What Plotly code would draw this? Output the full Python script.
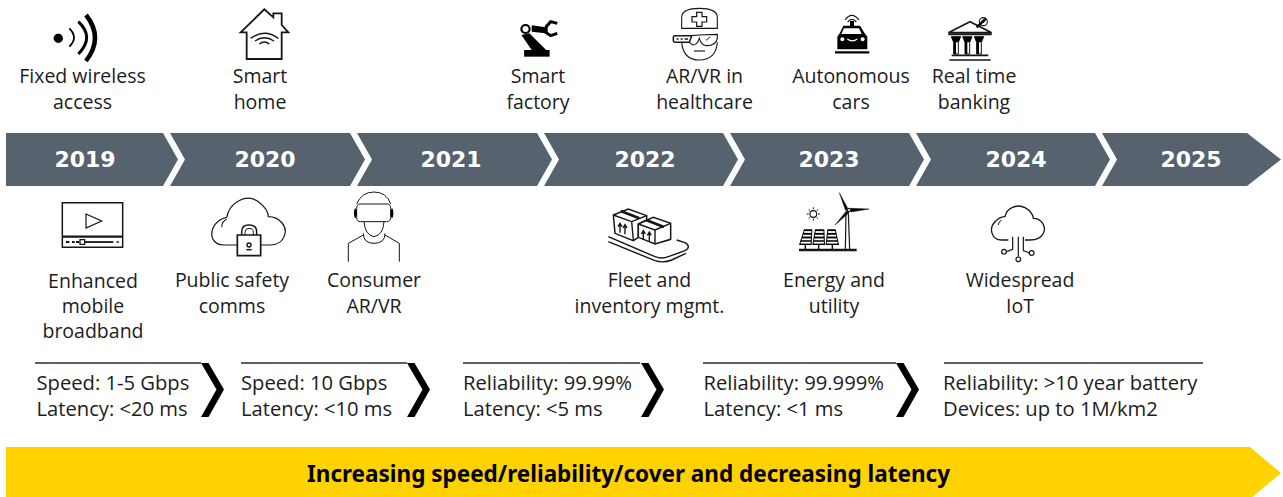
import re
import plotly.graph_objects as go

# ---------- content ----------
YEARS = ["2019", "2020", "2021", "2022", "2023", "2024", "2025"]
TOP_LABELS = ["Fixed wireless<br>access", "Smart<br>home", "Smart<br>factory",
              "AR/VR in<br>healthcare", "Autonomous<br>cars", "Real time<br>banking"]
BOTTOM_LABELS_3 = ["Enhanced<br>mobile<br>broadband"]
BOTTOM_LABELS_2 = ["Public safety<br>comms", "Consumer<br>AR/VR", "Fleet and<br>inventory mgmt.",
                   "Energy and<br>utility", "Widespread<br>IoT"]
SPEC_LABELS = ["Speed: 1-5 Gbps<br>Latency: <20 ms", "Speed: 10 Gbps<br>Latency: <10 ms",
               "Reliability: 99.99%<br>Latency: <5 ms", "Reliability: 99.999%<br>Latency: <1 ms",
               "Reliability: >10 year battery<br>Devices: up to 1M/km2"]
BANNER = ["Increasing speed/reliability/cover and decreasing latency"]

# ---------- layout positions (pixels of the page) ----------
W, H = 1283, 497
YEAR_X = [85, 265, 451, 645, 829, 1016, 1191]
TOP_X = [82.5, 260, 538, 704.5, 851, 974]
BOT3_X = [93]
BOT2_X = [232, 374, 649.5, 834, 1020]
SPEC_X = [36.5, 241, 463, 703.5, 943]
SEG_LEFT = [6, 170, 357, 544, 730, 916, 1102]
SEG_RIGHT = [163, 350, 537, 723, 909, 1095, 1247]
RULES = [(35, 201), (241, 407), (463, 640), (703, 896), (944, 1203)]
CHEVRONS = [201, 407, 641, 896]

DARK = "#15151c"
TXT = "#1c1c22"
BAND = "#56626e"
YELLOW = "#ffd200"
FONT = "Open Sans"

shapes = []


def add(path, fill=None, lw=1.5, color=DARK, layer="above"):
    s = dict(type="path", path=path, xref="x", yref="y", layer=layer,
             line=dict(color=color, width=lw))
    if lw == 0:
        s["line"] = dict(width=0)
    s["fillcolor"] = fill if fill else "rgba(0,0,0,0)"
    shapes.append(s)


def tf(path, ox, oy, sx=3.0, sy=3.0):
    """Map a path drawn in magnified crop units on to page pixels."""
    out, is_x = [], True
    for tok in re.findall(r"[A-Z]|-?\d+\.?\d*", path):
        if tok.isalpha():
            out.append(tok)
            is_x = True
        else:
            v = float(tok)
            out.append(f"{(ox + v / sx) if is_x else (oy + v / sy):.2f}")
            is_x = not is_x
    return " ".join(out)


def circ(cx, cy, rx, ry=None):
    ry = rx if ry is None else ry
    k = 0.5523
    return (f"M{cx-rx},{cy} C{cx-rx},{cy-k*ry} {cx-k*rx},{cy-ry} {cx},{cy-ry} "
            f"C{cx+k*rx},{cy-ry} {cx+rx},{cy-k*ry} {cx+rx},{cy} "
            f"C{cx+rx},{cy+k*ry} {cx+k*rx},{cy+ry} {cx},{cy+ry} "
            f"C{cx-k*rx},{cy+ry} {cx-rx},{cy+k*ry} {cx-rx},{cy} Z")


# timeline band
MID, TOP, BOT = 159.5, 133, 186
for i, (l, r) in enumerate(zip(SEG_LEFT, SEG_RIGHT)):
    if i == 0:
        p = f"M{l},{TOP} L{r},{TOP} L{r+15},{MID} L{r},{BOT} L{l},{BOT} Z"
    elif i == len(SEG_LEFT) - 1:
        p = f"M{l},{TOP} L{r},{TOP} L1281,{MID} L{r},{BOT} L{l},{BOT} L{l+15},{MID} Z"
    else:
        p = f"M{l},{TOP} L{r},{TOP} L{r+15},{MID} L{r},{BOT} L{l},{BOT} L{l+15},{MID} Z"
    add(p, fill=BAND, lw=0, layer="below")

# yellow banner
add("M6,447 L1250,447 L1281,473 L1250,499 L6,499 Z", fill=YELLOW, lw=0, layer="below")

# rules and chevrons of the spec row
for a, b in RULES:
    add(f"M{a},363 L{b},363", lw=1.3, color="#2a2a32")
for c in CHEVRONS:
    add(f"M{c},363 L{c+7.5},363 L{c+23},389.5 L{c+7.5},417 L{c},417 L{c+15.5},389.5 Z", fill="#000000", lw=0)


def crop(ox, oy, sx=3.0, sy=3.0):
    return lambda p, **k: add(tf(p, ox, oy, sx, sy), **k)


z1 = crop(0, 0)
z2 = crop(480, 0, 2.9, 3)
z3 = crop(0, 190)
z4 = crop(590, 185)
zcar = crop(830, 10)
zsol = crop(795, 190)
zbox = crop(600, 200)
zmed = crop(660, 5)

# --- wireless
z1(circ(175, 115, 14), fill="#000000", lw=0)
z1("M208,85 Q236,113 208,140", lw=1.8, color="#000000")
z1("M235,65 Q285,112 235,162", lw=3, color="#000000")
z1("M258,45 Q312,113 258,183", lw=4.5, color="#000000")
# --- home
z1("M722,97 L793,28 L820,52 L820,40 L845,40 L845,75 L865,97 L845,97 L845,177 L740,177 L740,97 Z", lw=1.8)
z1("M752,115 Q793,85 835,115", lw=1.4)
z1("M765,123 Q793,103 822,123", lw=1.4)
z1("M778,132 Q793,120 808,132", lw=1.4)
# --- robot
z2("M128,150 L202,150 L202,170 L128,170 Z", fill="#000000", lw=0)
z2("M120,105 L143,100 L192,150 L150,150 Z", fill="#000000", lw=0)
z2(circ(132, 87, 12), lw=2.2, color="#000000")
z2("M150,76 L190,82 L190,100 L150,95 Z", fill="#000000", lw=0)
z2("M224,70 L205,65 L192,80 L192,98 L205,107 L224,100", lw=3, color="#000000")
# --- healthcare
zmed("M65,70 L65,38 Q65,10 118,10 Q172,10 172,38 L172,70 Z", lw=1.1)
zmed("M110,22 L126,22 L126,35 L140,35 L140,51 L126,51 L126,64 L110,64 L110,51 L96,51 L96,35 L110,35 Z", lw=1.2)
zmed("M40,96 Q40,92 46,92 L95,92 L88,112 L46,112 Q40,112 40,106 Z", lw=1.5)
zmed("M50,102 L56,102 M62,102 L68,102 M74,102 L84,102", lw=1.6)
zmed("M95,92 L118,90 L172,88 L172,100 Q168,122 140,122 Q124,122 118,100 Q112,120 98,120 L88,112", lw=1.1)
zmed("M138,106 L150,96", lw=1)
zmed("M65,112 Q70,165 118,165 Q168,165 172,112", lw=1.1)
zmed("M102,138 L135,138", lw=1.1)
# --- car
zcar("M45,30 Q65,2 87,30", lw=1.2)
zcar("M53,36 Q66,20 79,36", lw=1.2)
zcar("M60,33 L72,33 L72,48 L60,48 Z", fill="#000000", lw=0)
zcar("M40,47 L90,47 L103,68 L112,80 L112,118 L22,118 L22,80 L30,68 Z", fill="#000000", lw=0)
zcar("M42,55 L87,55 L95,72 L34,72 Z", fill="#ffffff", lw=0)
zcar(circ(37, 88, 6), fill="#ffffff", lw=0)
zcar(circ(98, 88, 6), fill="#ffffff", lw=0)
zcar("M52,87 Q67,98 82,87", lw=1.3, color="#ffffff")
zcar("M15,127 L118,127", lw=2.4, color="#000000")
# --- bank
zcar("M355,68 L420,35 L485,68 Z", lw=1.6)
zcar("M355,73 L485,73", lw=2)
for cx in (378, 412, 447):
    zcar(f"M{cx-14},80 L{cx+14},80 L{cx+7},97 L{cx+7},132 L{cx-7},132 L{cx-7},97 Z", lw=1)
    zcar(f"M{cx-14},80 L{cx+14},80 L{cx+7},97 L{cx},97 L{cx},132 L{cx-7},132 L{cx-7},97 Z", fill="#000000", lw=0)
zcar("M365,136 L475,136", lw=1.6)
zcar("M358,150 L482,150", lw=1.6)
zcar(circ(460, 35, 12), fill="#ffffff", lw=1.1)
zcar("M440,52 L468,26", lw=2.4, color="#000000")
zcar(circ(460, 33, 4), lw=1)
# --- video
z3("M187,38 L368,38 L368,172 L187,172 Z", lw=1.5)
z3("M187,140 L368,140", lw=2.2)
z3("M258,72 L305,93 L258,114 Z", lw=1.2)
z3("M198,156 L208,156 M216,156 L224,156 M228,156 L238,156", lw=1.8)
z3("M254,156 L340,156", lw=1.8)
z3("M350,156 L356,156", lw=1.8)
z3("M240,149 L254,149 L254,163 L240,163 Z", fill="#ffffff", lw=1.3)
# --- cloud and lock
z3("M712,165 L672,165 C640,165 628,140 640,112 C648,95 665,85 680,82 C690,35 740,10 775,35 "
   "C795,50 805,65 805,80 C840,80 860,110 855,130 C850,155 830,165 810,165 L782,165", lw=1.2)
z3("M665,112 Q665,95 680,88", lw=1.1)
z3("M712,135 L782,135 L782,197 L712,197 Z", lw=1.7)
z3("M725,135 L725,125 Q725,105 747,105 Q770,105 770,125 L770,135", lw=1.5)
z3("M735,135 L735,127 Q735,115 747,115 Q760,115 760,127 L760,135", lw=1)
z3(circ(747, 165, 6), lw=1.4)
z3("M739,179 L755,179", lw=1.5)
# --- VR person
z3("M1070,42 Q1085,6 1122,6 Q1160,6 1172,42", lw=1)
z3("M1080,42 L1162,42 Q1172,42 1172,55 L1172,82 Q1172,95 1160,95 L1082,95 Q1070,95 1070,82 L1070,55 Q1070,42 1080,42 Z",
   fill="#ffffff", lw=1)
z3(circ(1066, 70, 4, 15), fill="#000000", lw=0)
z3(circ(1176, 70, 4, 15), fill="#000000", lw=0)
z3("M1092,95 Q1095,135 1122,140 Q1150,135 1152,95", lw=1)
z3("M1090,130 Q1090,160 1122,160 Q1155,160 1155,130", lw=1)
z3("M1045,215 L1045,160 L1090,135", lw=1)
z3("M1198,215 L1198,160 L1155,135", lw=1)
# --- boxes on conveyor
zbox("M25,110 L165,170 Q185,178 205,170 L255,152 Q275,140 255,128 L230,120", lw=1.4)
zbox("M25,125 L165,182 Q190,190 215,180 L258,160", lw=1.4)
zbox("M40,45 L85,27 L140,47 L140,60 L115,72 L115,112 L100,122 L45,100 Z", fill="#ffffff", lw=1.5)
zbox("M40,45 L95,65 L100,120 M95,65 L140,47", lw=1.4)
zbox("M115,72 L160,52 L212,70 L212,118 L165,132 L115,112 Z", fill="#ffffff", lw=1.5)
zbox("M115,72 L165,90 L165,132 M165,90 L212,70", lw=1.4)
zbox("M62,33 L118,55", lw=2.6)
zbox("M138,60 L192,81", lw=2.6)
zbox("M60,98 L60,72 M54,80 L60,70 L66,80 M75,103 L75,76 M69,84 L75,74 L81,84", lw=1.4)
zbox("M130,118 L130,94 M124,102 L130,92 L136,102 M148,124 L148,98 M142,106 L148,96 L154,106", lw=1.4)
# --- wind and solar
zsol("M153,68 L151,180 L164,180 L160,68", lw=1.2)
zsol("M158,55 L133,8 L152,62 Z", fill="#000000", lw=0.5)
zsol("M168,55 L222,57 L168,66 Z", fill="#000000", lw=0.5)
zsol("M155,62 L120,105 L162,68 Z", fill="#000000", lw=0.5)
zsol(circ(162, 60, 5), fill="#ffffff", lw=1.2)
zsol(circ(55, 72, 10), lw=1.1)
zsol("M55,52 L55,58 M55,86 L55,92 M35,72 L41,72 M69,72 L75,72 "
     "M41,58 L45,62 M65,82 L69,86 M69,58 L65,62 M45,82 L41,86", lw=1)
for xt0, xt1, xb0, xb1 in ((27, 52, 12, 50), (60, 88, 52, 90), (97, 122, 92, 132)):
    zsol(f"M{xt0},118 L{xt1},118 L{xb1},165 L{xb0},165 Z", fill="#000000", lw=0)
    for y in (126, 137, 148, 158):
        f = (y - 118) / 47
        a = xt0 + (xb0 - xt0) * f + 3
        b = xt1 + (xb1 - xt1) * f - 3
        zsol(f"M{a:.1f},{y} L{b:.1f},{y}", lw=1.8, color="#ffffff")
    m = (xb0 + xb1) // 2
    zsol(f"M{m},165 L{m},180", lw=1.5)
zsol("M12,180 L185,180", lw=2.4)
# --- IoT cloud
z4("M1255,165 L1235,165 C1205,165 1195,130 1215,110 C1225,100 1235,95 1245,95 C1250,70 1280,55 1305,68 "
   "C1325,78 1330,95 1330,100 C1355,100 1370,125 1360,145 C1352,160 1340,165 1320,165 L1305,165", lw=1.3)
z4("M1225,120 Q1225,110 1235,105", lw=1)
z4("M1268,155 L1268,193 L1250,200", lw=1.2)
z4(circ(1242, 200, 7), lw=1.2)
z4("M1285,155 L1285,215", lw=1.2)
z4(circ(1285, 223, 7), lw=1.2)
z4("M1300,155 L1300,197 L1318,204", lw=1.2)
z4(circ(1325, 204, 7), lw=1.2)

# ---------- text ----------
fig = go.Figure()


def text_trace(xs, ys, labels, pos, size, color, family=FONT, bold=False):
    fig.add_trace(go.Scatter(
        x=xs, y=ys, text=[f"<b>{t}</b>" if bold else t for t in labels],
        mode="text", textposition=pos, hoverinfo="skip", showlegend=False, cliponaxis=False,
        textfont=dict(family=family, size=size, color=color)))


text_trace(YEAR_X, [161] * len(YEARS), YEARS, "middle center", 22, "#ffffff", family="DejaVu Sans", bold=True)
text_trace(TOP_X, [91] * len(TOP_X), TOP_LABELS, "middle center", 19.5, TXT)
text_trace(BOT3_X, [308], BOTTOM_LABELS_3, "middle center", 19.5, TXT)
text_trace(BOT2_X, [295] * len(BOT2_X), BOTTOM_LABELS_2, "middle center", 19.5, TXT)
text_trace(SPEC_X, [398] * len(SPEC_X), SPEC_LABELS, "middle right", 20.2, TXT)
text_trace([628.5], [476], BANNER, "middle center", 22.5, "#000000", family="Noto Sans", bold=True)

fig.update_layout(
    width=W, height=H, margin=dict(l=0, r=0, t=0, b=0),
    paper_bgcolor="#ffffff", plot_bgcolor="#ffffff", shapes=shapes,
    xaxis=dict(range=[0, W], visible=False, fixedrange=True),
    yaxis=dict(range=[H, 0], visible=False, fixedrange=True),
)
fig.write_html("out.html", config={"displayModeBar": False},
               post_script="document.body.style.margin='0';document.body.style.overflow='hidden';")
